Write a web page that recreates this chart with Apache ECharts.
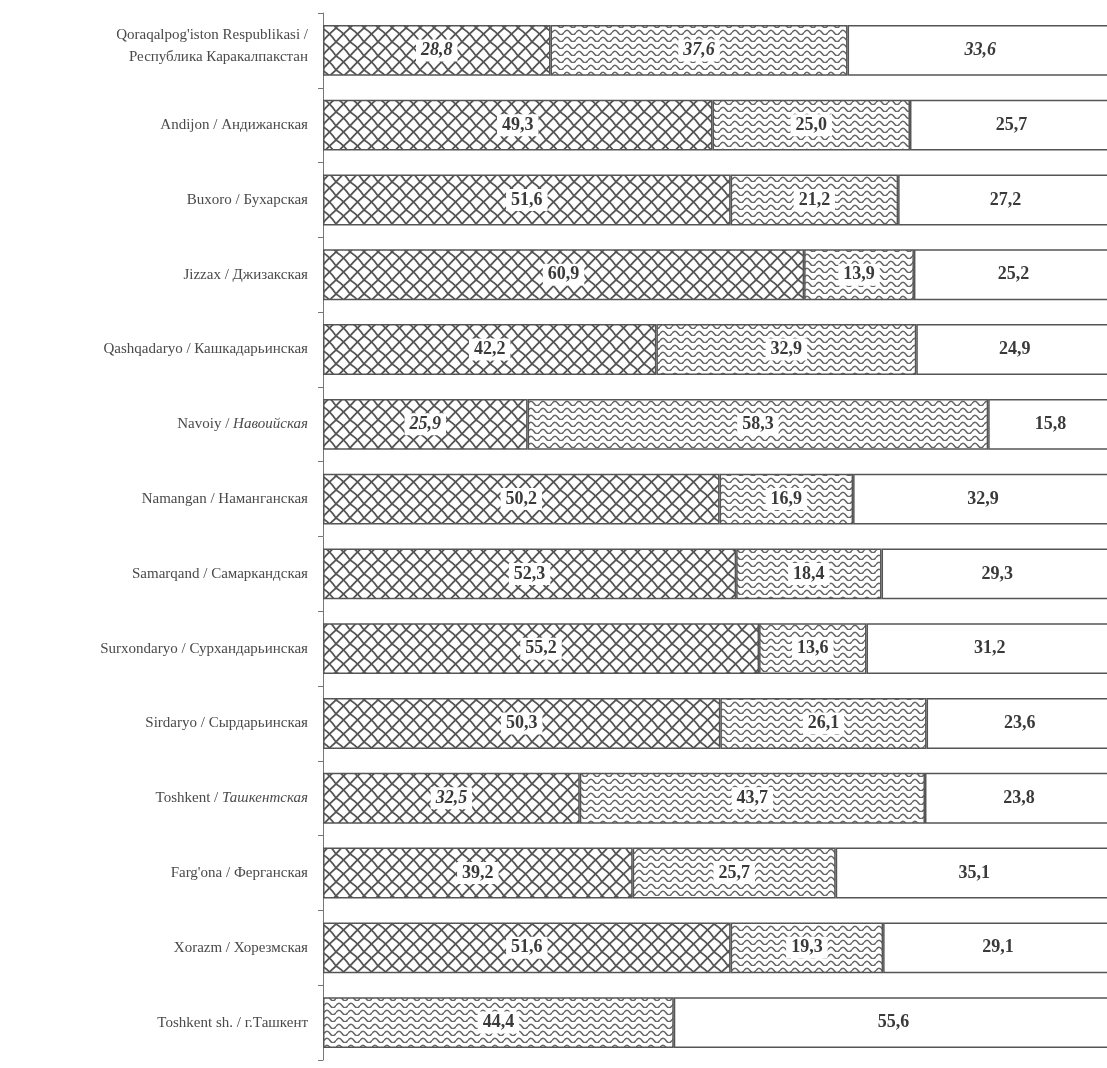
<!DOCTYPE html>
<html>
<head>
<meta charset="utf-8">
<script src="https://cdn.jsdelivr.net/npm/echarts@6/dist/echarts.min.js"></script>
<style>html,body{margin:0;padding:0;background:#fff;overflow:hidden}#c{width:1113px;height:1068px}</style>
</head>
<body>
<div id="c"></div>
<script>
var categories = [
  "Qoraqalpog'iston Respublikasi /\nРеспублика Каракалпакстан",
  "Andijon / Андижанская",
  "Buxoro / Бухарская",
  "Jizzax / Джизакская",
  "Qashqadaryo / Кашкадарьинская",
  "Navoiy / {i|Навоийская}",
  "Namangan / Наманганская",
  "Samarqand / Самаркандская",
  "Surxondaryo / Сурхандарьинская",
  "Sirdaryo / Сырдарьинская",
  "Toshkent / {i|Ташкентская}",
  "Farg'ona / Ферганская",
  "Xorazm / Хорезмская",
  "Toshkent sh. / г.Ташкент"
];
var series1 = [28.8, 49.3, 51.6, 60.9, 42.2, 25.9, 50.2, 52.3, 55.2, 50.3, 32.5, 39.2, 51.6, null];
var series2 = [37.6, 25.0, 21.2, 13.9, 32.9, 58.3, 16.9, 18.4, 13.6, 26.1, 43.7, 25.7, 19.3, 44.4];
var series3 = [33.6, 25.7, 27.2, 25.2, 24.9, 15.8, 32.9, 29.3, 31.2, 23.6, 23.8, 35.1, 29.1, 55.6];

// style: which cells get italic labels [seriesIndex, rowIndex]
var italicCells = [[0,0],[1,0],[2,0],[0,5],[0,10]];

function makeCross() {
  var c = document.createElement('canvas');
  c.width = 14; c.height = 14;
  var g = c.getContext('2d');
  g.fillStyle = '#fff'; g.fillRect(0,0,14,14);
  g.strokeStyle = '#555'; g.lineWidth = 1.8; g.lineCap = 'round';
  for (var k = -14; k <= 28; k += 14) {
    g.beginPath();
    g.moveTo(k, 14); g.quadraticCurveTo(k + 5, 8, k + 14, 0);
    g.stroke();
    g.beginPath();
    g.moveTo(k, 0); g.quadraticCurveTo(k + 8, 5, k + 14, 14);
    g.stroke();
  }
  return c;
}
function makeWave() {
  var c = document.createElement('canvas');
  c.width = 12; c.height = 7;
  var g = c.getContext('2d');
  g.fillStyle = '#fff'; g.fillRect(0,0,12,7);
  g.strokeStyle = '#666'; g.lineWidth = 1.5;
  g.beginPath();
  g.moveTo(0, 4.5);
  g.quadraticCurveTo(3, 0, 6, 4.5);
  g.quadraticCurveTo(9, 9, 12, 4.5);
  g.stroke();
  return c;
}

var crossPat = { image: makeCross(), repeat: 'repeat' };
var wavePat = { image: makeWave(), repeat: 'repeat' };

function isItalic(s, i) {
  for (var k = 0; k < italicCells.length; k++) {
    if (italicCells[k][0] === s && italicCells[k][1] === i) return true;
  }
  return false;
}
function buildData(arr, s) {
  return arr.map(function (v, i) {
    var item = { value: v };
    if (isItalic(s, i)) item.label = { fontStyle: 'italic' };
    return item;
  });
}
var labelBase = {
  show: true,
  position: 'inside',
  fontFamily: 'Liberation Serif',
  fontSize: 18,
  fontWeight: 'bold',
  color: '#3a3a3a',
  backgroundColor: '#fff',
  padding: [3, 5, 1, 5],
  formatter: function (p) {
    if (p.value == null) return '';
    return p.value.toFixed(1).replace('.', ',');
  }
};
function mkSeries(arr, s, fill) {
  return {
    type: 'bar',
    stack: 'total',
    barWidth: '68%',
    data: buildData(arr, s),
    itemStyle: { color: fill, borderColor: '#555', borderWidth: 1.5 },
    label: s === 2 ? Object.assign({}, labelBase, { backgroundColor: 'transparent' }) : labelBase,
    emphasis: { disabled: true },
    silent: true
  };
}

var catData = categories.map(function (c, i) {
  if (i === 0) return { value: c, textStyle: { padding: [0, 0, 9, 0] } };
  return c;
});

var chart = echarts.init(document.getElementById('c'), null, { renderer: 'canvas' });
chart.setOption({
  backgroundColor: '#fff',
  animation: false,
  grid: { left: 323, right: 0, top: 13, bottom: 8, containLabel: false },
  xAxis: { type: 'value', min: 0, max: 100, show: false },
  yAxis: {
    type: 'category',
    data: catData,
    inverse: true,
    axisLine: { show: true, lineStyle: { color: '#777', width: 1 } },
    axisTick: { show: true, length: 5, lineStyle: { color: '#777' } },
    axisLabel: {
      margin: 15,
      fontFamily: 'Liberation Serif',
      fontSize: 15,
      color: '#4a4a4a',
      lineHeight: 22,
      align: 'right',
      rich: { i: { fontStyle: 'italic', fontFamily: 'Liberation Serif', fontSize: 15, color: '#4a4a4a' } }
    },
    splitLine: { show: false }
  },
  series: [
    mkSeries(series1, 0, crossPat),
    mkSeries(series2, 1, wavePat),
    mkSeries(series3, 2, '#fff')
  ]
});
</script>
</body>
</html>
